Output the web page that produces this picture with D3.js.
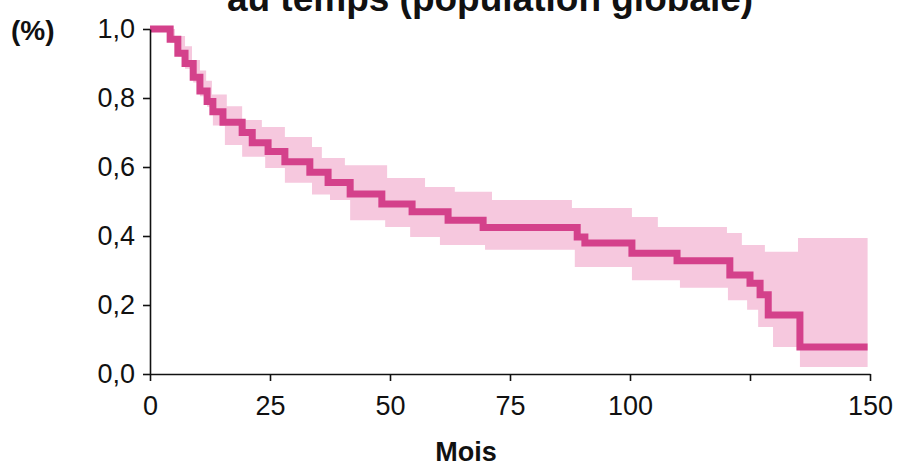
<!DOCTYPE html>
<html>
<head>
<meta charset="utf-8">
<script src="https://cdn.jsdelivr.net/npm/d3@7/dist/d3.min.js"></script>
<style>
  html, body { margin: 0; padding: 0; background: #ffffff; }
  svg { display: block; }
  text { font-family: "Liberation Sans", Arial, sans-serif; }
</style>
</head>
<body>
<svg id="chart" width="900" height="469"></svg>
<script>
// ---- Data ----
const titleText = "au temps (population globale)";
const yUnitLabel = "(%)";
const xAxisLabel = "Mois";

// Kaplan-Meier estimate: step times (months) and survival after each step
const kmMonths   = [0, 4.2, 5.8, 7.3, 9.0, 10.4, 11.9, 13.1, 15.2, 19.2, 21.3, 24.6, 28.1, 33.3, 37.1, 41.7, 48.3, 54.6, 62.1, 69.4, 89.0, 90.6, 100.4, 109.8, 120.8, 125.0, 127.1, 128.8, 135.4];
const kmSurvival = [1.0, 0.97, 0.93, 0.90, 0.86, 0.82, 0.79, 0.76, 0.73, 0.70, 0.67, 0.645, 0.615, 0.585, 0.555, 0.522, 0.493, 0.470, 0.446, 0.425, 0.397, 0.38, 0.35, 0.328, 0.287, 0.263, 0.23, 0.171, 0.078];
const kmEnd = 149.5;

// Confidence band: upper bound steps
const upperMonths = [0, 5.2, 7.3, 8.75, 10.4, 11.7, 12.9, 16.0, 19.2, 23.3, 28.1, 33.75, 35.8, 40.6, 49.4, 57.3, 63.5, 71.25, 87.9, 100.4, 105.8, 120.2, 123.3, 128.1, 135.0];
const upperValues = [1.0, 0.98, 0.95, 0.91, 0.88, 0.85, 0.81, 0.776, 0.736, 0.716, 0.687, 0.658, 0.626, 0.605, 0.568, 0.542, 0.528, 0.504, 0.481, 0.455, 0.426, 0.409, 0.374, 0.354, 0.394];
// Confidence band: lower bound steps
const lowerMonths = [0, 4.2, 5.8, 7.3, 9.0, 10.4, 11.9, 13.1, 15.6, 19.2, 24.0, 28.1, 33.75, 37.5, 41.7, 49.0, 54.2, 60.4, 69.8, 88.5, 100.4, 110.4, 120.4, 124.4, 126.7, 129.8, 135.4];
const lowerValues = [0.995, 0.96, 0.92, 0.885, 0.845, 0.805, 0.775, 0.72, 0.664, 0.63, 0.597, 0.554, 0.52, 0.504, 0.446, 0.426, 0.397, 0.374, 0.36, 0.31, 0.272, 0.25, 0.214, 0.186, 0.136, 0.078, 0.02];

const xTickValues = [0, 25, 50, 75, 100, 125, 150];
const xTickLabels = ["0", "25", "50", "75", "100", "", "150"];
const yTickValues = [0, 0.2, 0.4, 0.6, 0.8, 1.0];
const yTickLabels = ["0,0", "0,2", "0,4", "0,6", "0,8", "1,0"];

// ---- Layout ----
const svg = d3.select("#chart");
const x = d3.scaleLinear().domain([0, 150]).range([150, 870]);
const y = d3.scaleLinear().domain([0, 1]).range([374, 29]);

const lineColor = "#d4418b";
const bandColor = "#f6c8de";

// step lookup
function stepVal(times, vals, t) {
  const i = d3.bisectRight(times, t) - 1;
  return vals[Math.max(0, i)];
}
const bandTimes = Array.from(new Set([...upperMonths, ...lowerMonths, kmEnd])).sort((a, b) => a - b);
const bandData = bandTimes.map(t => ({
  t,
  hi: stepVal(upperMonths, upperValues, t),
  lo: stepVal(lowerMonths, lowerValues, t)
}));

svg.append("path")
  .datum(bandData)
  .attr("fill", bandColor)
  .attr("stroke", "none")
  .attr("d", d3.area()
    .curve(d3.curveStepAfter)
    .x(d => x(d.t))
    .y0(d => y(d.lo))
    .y1(d => y(d.hi)));

const kmData = kmMonths.map((t, i) => ({ t, s: kmSurvival[i] }));
kmData.push({ t: kmEnd, s: kmSurvival[kmSurvival.length - 1] });

svg.append("path")
  .datum(kmData)
  .attr("fill", "none")
  .attr("stroke", lineColor)
  .attr("stroke-width", 7)
  .attr("stroke-linejoin", "miter")
  .attr("stroke-linecap", "butt")
  .attr("d", d3.line()
    .curve(d3.curveStepAfter)
    .x(d => x(d.t))
    .y(d => y(d.s)));

// Axes
const xAxis = d3.axisBottom(x)
  .tickValues(xTickValues)
  .tickFormat((d, i) => xTickLabels[i])
  .tickSizeInner(7)
  .tickSizeOuter(0)
  .tickPadding(15);
const gx = svg.append("g").attr("transform", `translate(0,${y(0)})`).call(xAxis);

const yAxis = d3.axisLeft(y)
  .tickValues(yTickValues)
  .tickFormat((d, i) => yTickLabels[i])
  .tickSizeInner(7)
  .tickSizeOuter(0)
  .tickPadding(8);
const gy = svg.append("g").attr("transform", `translate(${x(0)},0)`).call(yAxis);

[gx, gy].forEach(g => {
  g.select(".domain").attr("stroke", "#111").attr("stroke-width", 1.6);
  g.selectAll(".tick line").attr("stroke", "#111").attr("stroke-width", 1.6);
  g.selectAll(".tick text")
    .attr("fill", "#111")
    .style("font-family", '"Liberation Sans", Arial, sans-serif')
    .style("font-size", "27px");
});

// Texts
svg.append("text")
  .attr("x", 490).attr("y", 11)
  .attr("text-anchor", "middle")
  .style("font-weight", "bold")
  .style("font-size", "37px")
  .attr("fill", "#111")
  .text(titleText);

svg.append("text")
  .attr("x", 11).attr("y", 40)
  .style("font-weight", "bold")
  .style("font-size", "28px")
  .attr("fill", "#111")
  .text(yUnitLabel);

svg.append("text")
  .attr("x", 466).attr("y", 461)
  .attr("text-anchor", "middle")
  .style("font-weight", "bold")
  .style("font-size", "27px")
  .attr("fill", "#111")
  .text(xAxisLabel);
</script>
</body>
</html>
